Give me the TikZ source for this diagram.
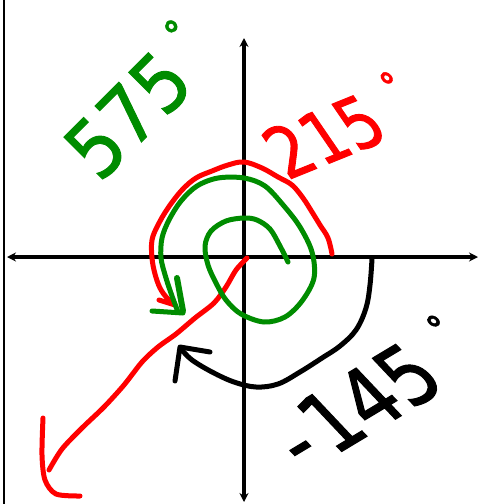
\documentclass[tikz,border=0pt]{standalone}
\usepackage{fontspec}
\setmainfont{DejaVu Sans}
\newfontfamily\handA[FakeStretch=0.9,FakeBold=1.2]{DejaVu Sans}
\newfontfamily\handB[FakeStretch=0.8,FakeSlant=-0.22,FakeBold=1.2]{DejaVu Sans}
\usetikzlibrary{arrows.meta}
\definecolor{pgreen}{RGB}{0,140,0}
\definecolor{pred}{RGB}{255,0,0}
\newcommand{\degmark}{\rlap{\kern0.2em\raisebox{0.48em}{\fontsize{38}{38}\selectfont\bfseries °}}}
\tikzset{
  axis/.style={line width=3.1pt,{Stealth[length=9pt,width=9pt]}-{Stealth[length=9pt,width=9pt]}},
  pen/.style={line width=5pt,line cap=round,line join=round},
  handgreen/.style={font=\handA\fontsize{80}{80}\selectfont,inner sep=0pt,text=pgreen},
  handred/.style={font=\handB\fontsize{74}{74}\selectfont,inner sep=0pt,text=pred},
  handblack/.style={font=\handB\fontsize{88}{88}\selectfont,inner sep=0pt,text=black}
}
\begin{document}
\begin{tikzpicture}[x=1pt,y=-1pt]
\useasboundingbox (0,0) rectangle (480,504);
\fill[white] (0,0) rectangle (480,504);
% left border line
\draw[line width=2pt] (4,0) -- (4,504);
% axes
\coordinate (O) at (244,257);
\coordinate (xl) at (7,257);
\coordinate (xr) at (478,257);
\coordinate (yt) at (244,38);
\coordinate (yb) at (244,502);
\draw[axis] (xl) -- (xr);
\draw[axis] (yb) -- (yt);
% red 215 arc
\draw[pen,pred] plot[smooth,tension=0.6] coordinates {(332,254) (328,238) (320,225) (312,212) (303,198) (292,185) (278,177) (262,168) (244,162) (228,165) (212,171) (196,178) (182,190) (168,208) (158,225) (152,240) (152,258) (155,274) (160,288) (167,298) (175,305)};
\draw[pen,pred] (159,300) -- (175,305);
% red terminal ray
\draw[pen,pred] plot[smooth,tension=0.5] coordinates {(247,258) (236,270) (226,287) (214,303) (195,318) (176,334) (158,347) (142,362) (124,385) (104,407) (82,428) (62,449) (49,470)};
\draw[pen,pred] plot[smooth,tension=0.5] coordinates {(43,418) (42,455) (45,480) (56,494) (80,496)};
% green 575 spiral
\draw[pen,pgreen] plot[smooth,tension=0.55] coordinates {(288,262) (280,246) (270,229) (257,220) (244,218) (226,221) (211,231) (205,246) (208,265) (216,283) (226,300) (241,314) (264,322) (285,317) (302,301) (314,278) (312,252) (300,227) (284,206) (265,186) (244,178) (218,178) (197,186) (181,201) (169,220) (162,238) (161,258) (166,278) (172,296) (178,312)};
\draw[pen,pgreen] (152,311) -- (183,313);
\draw[pen,pgreen,line width=6pt] (177,278) -- (183,311);
% black -145 arc
\draw[pen,black] plot[smooth,tension=0.6] coordinates {(372,259) (370,285) (366,308) (356,330) (340,346) (322,358) (300,372) (278,384) (256,387) (234,382) (212,372) (192,360) (182,350)};
\draw[pen,black] (175,381) -- (180,347) -- (210,352);
% labels
\node[handgreen,rotate=45] (t575) at (125,112) {575\degmark};
\node[handred,rotate=22] (t215) at (328,130) {215\degmark};
\node[handblack,rotate=31] (t145) at (360,400) {-\kern0.08em 145\degmark};
\end{tikzpicture}
\end{document}
